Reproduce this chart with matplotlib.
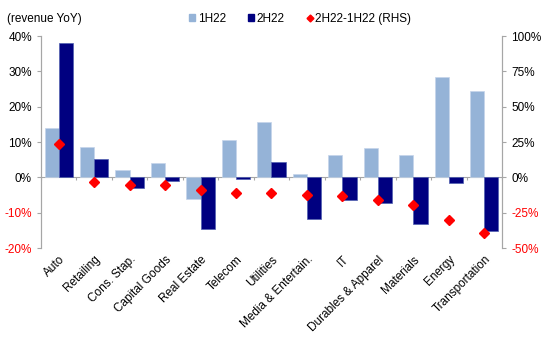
import matplotlib.pyplot as plt
import numpy as np
from matplotlib.patches import Patch
from matplotlib.lines import Line2D

plt.rcParams['font.family'] = ['Liberation Sans', 'DejaVu Sans']
plt.rcParams['font.size'] = 8

# Data
sectors = ['Auto', 'Retailing', 'Cons. Stap.', 'Capital Goods', 'Real Estate', 'Telecom',
           'Utilities', 'Media & Entertain.', 'IT', 'Durables & Apparel', 'Materials',
           'Energy', 'Transportation']
h1_22 = [14.0, 8.5, 2.2, 4.2, -6.0, 10.7, 15.6, 0.9, 6.4, 8.4, 6.4, 28.4, 24.3]
h2_22 = [37.9, 5.1, -2.9, -1.1, -14.6, -0.4, 4.3, -11.7, -6.4, -7.2, -13.1, -1.7, -15.1]
diff_rhs = [23.8, -3.4, -5.2, -5.3, -8.8, -11.3, -11.4, -12.6, -12.9, -15.7, -19.6, -30.2, -39.6]

left_ticks = [-20, -10, 0, 10, 20, 30, 40]
right_ticks = [-50, -25, 0, 25, 50, 75, 100]

c1 = '#95B3D7'
c2 = '#000080'
cd = '#FF0000'
grey = '#A6A6A6'

fig = plt.figure(figsize=(5.5, 3.44), dpi=100)
ax = fig.add_axes([0.0745, 0.279, 0.8382, 0.6163])
ax2 = ax.twinx()

x = np.arange(len(sectors))
w = 0.4
ax.bar(x - w / 2, h1_22, w, color=c1, edgecolor='#C5D5EA', linewidth=0.5, zorder=2)
ax.bar(x + w / 2, h2_22, w, color=c2, edgecolor='#5060B0', linewidth=0.5, zorder=2)
ax2.plot(x, diff_rhs, linestyle='none', marker='D', color=cd, markersize=5, zorder=3)

# Plot setup
ax.set_xlim(-0.5, len(sectors) - 0.5)
ax.set_ylim(-20, 40)
ax2.set_ylim(-50, 100)
ax.set_yticks(left_ticks)
ax.set_yticklabels([f'{t}%' for t in left_ticks])
ax2.set_yticks(right_ticks)
ax2.set_yticklabels([f'{t}%' for t in right_ticks])

for a in (ax, ax2):
    a.spines['top'].set_visible(False)
    a.spines['bottom'].set_visible(False)
    a.spines['left'].set_color(grey)
    a.spines['right'].set_color(grey)
    a.tick_params(axis='y', colors=grey, length=3, width=0.8, labelsize=8.5)
for lab, t in zip(ax.get_yticklabels(), left_ticks):
    lab.set_color(cd if t < 0 else 'black')
for lab, t in zip(ax2.get_yticklabels(), right_ticks):
    lab.set_color(cd if t < 0 else 'black')

# zero line with category ticks
ax.axhline(0, color=grey, linewidth=0.8, zorder=1)
ax.vlines(np.arange(len(sectors) + 1) - 0.5, -0.7, 0, color=grey, linewidth=0.8, zorder=1)

ax.set_xticks(x)
ax.set_xticklabels(sectors, rotation=45, ha='right', rotation_mode='anchor', fontsize=8.5)
ax.tick_params(axis='x', length=0, pad=4)

# Legend
fig.text(0.013, 0.945, '(revenue YoY)', fontsize=8.5, va='center')
handles = [Patch(color=c1), Patch(color=c2),
           Line2D([], [], linestyle='none', marker='D', color=cd, markersize=3.5)]
fig.legend(handles, ['1H22', '2H22', '2H22-1H22 (RHS)'], ncol=3, frameon=False,
           loc='center left', bbox_to_anchor=(0.325, 0.945), fontsize=8.5,
           handlelength=0.5, handleheight=0.5, handletextpad=0.2, columnspacing=1.9)

plt.savefig('out.png', dpi=100)
